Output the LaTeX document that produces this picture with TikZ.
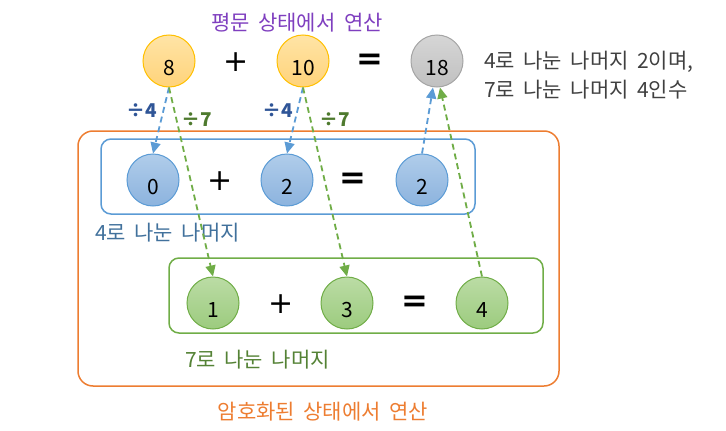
\documentclass[tikz,border=0pt]{standalone}
\usepackage{fontspec}
\setmainfont{Noto Sans CJK KR}[WordSpace=1.8]
\newfontfamily\signfont{DejaVu Sans}
\usetikzlibrary{arrows.meta,positioning}

\definecolor{plainline}{HTML}{FFC000}
\definecolor{plaintop}{HTML}{FFE4A6}
\definecolor{plainbot}{HTML}{FFD37A}
\definecolor{resline}{HTML}{A5A5A5}
\definecolor{restop}{HTML}{D6D6D6}
\definecolor{resbot}{HTML}{C0C0C0}
\definecolor{modfourline}{HTML}{5B9BD5}
\definecolor{modfourtop}{HTML}{B0CDEA}
\definecolor{modfourbot}{HTML}{8CB3DE}
\definecolor{modsevenline}{HTML}{70AD47}
\definecolor{modseventop}{HTML}{BBDCA5}
\definecolor{modsevenbot}{HTML}{9CCB7E}
\definecolor{encline}{HTML}{ED7D31}
\definecolor{titlepurple}{HTML}{7F3FBF}
\definecolor{fourtext}{HTML}{41719C}
\definecolor{seventext}{HTML}{548235}
\definecolor{divfour}{HTML}{2F5597}
\definecolor{divseven}{HTML}{4E7A2E}
\definecolor{notegray}{HTML}{404040}

\begin{document}
\begin{tikzpicture}[x=1pt, y=-1pt,
  numcirc/.style={circle, minimum size=52pt, inner sep=0pt, line width=1pt,
    font=\fontsize{21}{21}\selectfont, text height=29pt, text depth=0pt},
  plain/.style={numcirc, draw=plainline, top color=plaintop, bottom color=plainbot},
  result/.style={numcirc, draw=resline, top color=restop, bottom color=resbot},
  modfour/.style={numcirc, draw=modfourline, top color=modfourtop, bottom color=modfourbot},
  modseven/.style={numcirc, draw=modsevenline, top color=modseventop, bottom color=modsevenbot},
  opsign/.style={font=\signfont\fontsize{30}{30}\selectfont, inner sep=0pt},
  eqsign/.style={font=\signfont\bfseries\fontsize{32}{32}\selectfont, inner sep=0pt},
  caption/.style={font=\fontsize{21}{21}\selectfont, inner sep=0pt},
  divlabel/.style={font=\bfseries\fontsize{19}{19}\selectfont, inner sep=0pt},
  arrfour/.style={draw=modfourline, line width=1.8pt, dash pattern=on 6pt off 4pt,
    -{Triangle[length=11pt, width=10pt]}},
  arrseven/.style={draw=modsevenline, line width=1.8pt, dash pattern=on 6pt off 4pt,
    -{Triangle[length=11pt, width=10pt]}},
  box/.style={rounded corners=10pt, line width=1.5pt}]
\useasboundingbox (0,0) rectangle (726,431);

% boxes
\draw[box, encline, rounded corners=15pt] (78,131) rectangle (559,386);
\draw[box, modfourline] (101,139) rectangle (475,214);
\draw[box, modsevenline] (169,258) rectangle (543,333);

% plain text row
\node[caption, titlepurple] (ttl) at (297,23) {평문 상태에서 연산};
\node[plain] (p8) at (169,61) {8};
\node[opsign] (pplus) at (236,62) {+};
\node[plain] (p10) at (303,61) {10};
\node[eqsign] (peq) at (370,62) {=};
\node[result] (p18) at (437,61) {18};
\node[caption, notegray, anchor=west] (note1) at (484,62) {4로 나눈 나머지 2이며,};
\node[caption, notegray, anchor=west] (note2) at (484,90) {7로 나눈 나머지 4인수};

% remainder by 4
\node[modfour] (f0) at (153,180) {0};
\node[opsign] (fplus) at (220,181) {+};
\node[modfour] (f2) at (287,180) {2};
\node[eqsign] (feq) at (353,181) {=};
\node[modfour] (fres) at (422,180) {2};
\node[caption, fourtext, anchor=west] (flabel) at (95,233) {4로 나눈 나머지};

% remainder by 7
\node[modseven] (s1) at (213,303) {1};
\node[opsign] (splus) at (281,304) {+};
\node[modseven] (s3) at (347,303) {3};
\node[eqsign] (seq) at (415,304) {=};
\node[modseven] (sres) at (482,303) {4};
\node[caption, seventext, anchor=west] (slabel) at (185,360) {7로 나눈 나머지};

\node[caption, encline] (enc) at (323,412) {암호화된 상태에서 연산};

% division labels
\node[divlabel, divfour] (d8f) at (142,111) {÷4};
\node[divlabel, divseven] (d8s) at (197,120) {÷7};
\node[divlabel, divfour] (d10f) at (278,111) {÷4};
\node[divlabel, divseven] (d10s) at (335,120) {÷7};

% connectors
\draw[arrfour] (p8.south) -- (f0.north);
\draw[arrseven] (p8.south) -- (s1.north);
\draw[arrfour] (p10.south) -- (f2.north);
\draw[arrseven] (p10.south) -- (s3.north);
\draw[arrfour] (fres.north) -- ([xshift=-4pt]p18.south);
\draw[arrseven] (sres.north) -- ([xshift=3pt]p18.south);
\end{tikzpicture}
\end{document}
